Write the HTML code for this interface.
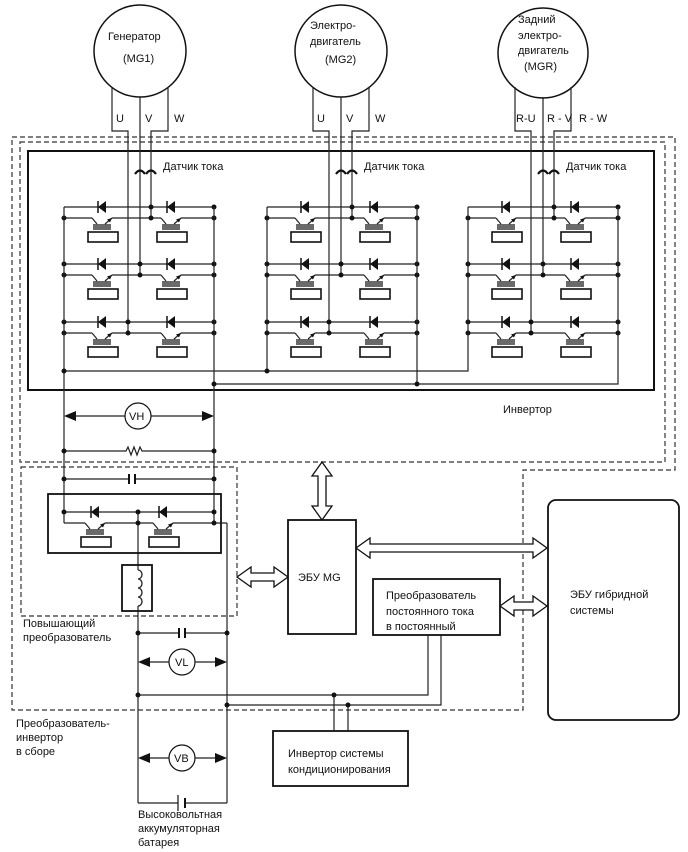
<!DOCTYPE html>
<html><head><meta charset="utf-8"><style>
html,body{margin:0;padding:0;background:#fff}
svg{display:block}
text{font-family:"Liberation Sans",sans-serif;font-size:11px;fill:#111}
</style></head><body>
<svg width="688" height="852" viewBox="0 0 688 852" xmlns="http://www.w3.org/2000/svg">
<defs>
<g id="sw">
 <polygon points="-4,0 4,-6 4,6" fill="#111"/>
 <line x1="-4" y1="-6" x2="-4" y2="6" stroke="#111" stroke-width="1.5"/>
 <line x1="-10" y1="11" x2="-5" y2="17" stroke="#222" stroke-width="1.2"/>
 <line x1="3" y1="17" x2="10" y2="11" stroke="#222" stroke-width="1.2"/>
 <polygon points="10,11 5,12.5 8,15.5" fill="#111"/>
 <line x1="-9" y1="18" x2="9" y2="18" stroke="#111" stroke-width="1.2"/>
 <line x1="-9" y1="20" x2="9" y2="20" stroke="#111" stroke-width="1.2"/>
 <line x1="-9" y1="22" x2="9" y2="22" stroke="#111" stroke-width="1.2"/>
 <rect x="-14" y="25" width="30" height="10" fill="none" stroke="#111" stroke-width="1.6"/>
</g>
<g id="row">
 <line x1="0" y1="0" x2="150" y2="0" stroke="#222" stroke-width="1.2"/>
 <line x1="0" y1="11" x2="28" y2="11" stroke="#222" stroke-width="1.2"/>
 <line x1="48" y1="11" x2="97" y2="11" stroke="#222" stroke-width="1.2"/>
 <line x1="117" y1="11" x2="150" y2="11" stroke="#222" stroke-width="1.2"/>
 <use href="#sw" x="38" y="0"/>
 <use href="#sw" x="107" y="0"/>
 <circle cx="0" cy="11" r="2.5" fill="#111"/>
 <circle cx="150" cy="11" r="2.5" fill="#111"/>
</g>
<g id="bridge">
 <use href="#row" x="0" y="0"/>
 <use href="#row" x="0" y="57"/>
 <use href="#row" x="0" y="115"/>
 <circle cx="0" cy="57" r="2.5" fill="#111"/><circle cx="150" cy="57" r="2.5" fill="#111"/>
 <circle cx="0" cy="115" r="2.5" fill="#111"/><circle cx="150" cy="115" r="2.5" fill="#111"/>
 <circle cx="150" cy="0" r="2.5" fill="#111"/>
</g>
<g id="motorwires" fill="none" stroke="#222" stroke-width="1.2">
 <polyline points="-28,87 -28,131 -12,131 -12,333"/>
 <line x1="0" y1="97" x2="0" y2="275"/>
 <polyline points="28,87 28,131 11,131 11,218"/>
 <path d="M-5,174 q5,-7 10,0" stroke="#111" stroke-width="2.2"/>
 <path d="M6,174 q5,-7 10,0" stroke="#111" stroke-width="2.2"/>
</g>
<g id="mdots" fill="#111">
 <circle cx="-12" cy="322" r="2.5"/><circle cx="-12" cy="333" r="2.5"/>
 <circle cx="0" cy="264" r="2.5"/><circle cx="0" cy="275" r="2.5"/>
 <circle cx="11" cy="207" r="2.5"/><circle cx="11" cy="218" r="2.5"/>
</g>
</defs>

<!-- dashed boxes -->
<g fill="none" stroke="#333" stroke-width="1.2" stroke-dasharray="5,3">
 <polyline points="12,137 675,137 675,470 523,470 523,710 12,710 12,137"/>
 <rect x="20" y="142" width="645" height="320"/>
 <rect x="21" y="467" width="216" height="149"/>
</g>

<!-- inverter box -->
<rect x="28" y="151" width="626" height="239" fill="none" stroke="#111" stroke-width="2"/>

<!-- motors -->
<g fill="none" stroke="#111" stroke-width="1.5">
 <circle cx="140" cy="51" r="46"/>
 <circle cx="341" cy="51" r="46"/>
 <circle cx="543" cy="53" r="45"/>
</g>
<text x="108" y="40">Генератор</text>
<text x="123" y="62">(MG1)</text>
<text x="310" y="29">Электро-</text>
<text x="310" y="45">двигатель</text>
<text x="325" y="63">(MG2)</text>
<text x="518" y="23">Задний</text>
<text x="518" y="39">электро-</text>
<text x="518" y="54">двигатель</text>
<text x="524" y="70">(MGR)</text>

<use href="#motorwires" x="140" y="0"/>
<use href="#motorwires" x="341" y="0"/>
<use href="#motorwires" x="543" y="0"/>
<text x="116" y="122">U</text><text x="145" y="122">V</text><text x="174" y="122">W</text>
<text x="317" y="122">U</text><text x="346" y="122">V</text><text x="375" y="122">W</text>
<text x="516" y="122">R-U</text><text x="547" y="122">R - V</text><text x="579" y="122">R - W</text>
<text x="163" y="170">Датчик тока</text>
<text x="364" y="170">Датчик тока</text>
<text x="566" y="170">Датчик тока</text>

<!-- bridges -->
<use href="#bridge" x="64" y="207"/>
<use href="#bridge" x="267" y="207"/>
<use href="#bridge" x="468" y="207"/>
<use href="#mdots" x="140" y="0"/>
<use href="#mdots" x="341" y="0"/>
<use href="#mdots" x="543" y="0"/>

<g fill="none" stroke="#222" stroke-width="1.2">
 <line x1="267" y1="207" x2="267" y2="371"/>
 <line x1="417" y1="207" x2="417" y2="384"/>
 <polyline points="618,207 618,384 214,384"/>
 <polyline points="468,207 468,371 64,371"/>
 <line x1="64" y1="207" x2="64" y2="523"/>
 <line x1="214" y1="207" x2="214" y2="523"/>
 <!-- VH -->
 <line x1="74" y1="416" x2="204" y2="416"/>
 <!-- resistor -->
 <polyline points="64,451 126,451 128,447 131,455 134,447 137,455 140,447 142,451 214,451"/>
 <!-- cap -->
 <line x1="64" y1="479" x2="129" y2="479"/><line x1="135" y1="479" x2="214" y2="479"/>
 <!-- boost -->
 <line x1="64" y1="512" x2="214" y2="512"/>
 <line x1="64" y1="523" x2="85" y2="523"/>
 <line x1="105" y1="523" x2="153" y2="523"/>
 <line x1="173" y1="523" x2="227" y2="523"/>
 <line x1="227" y1="523" x2="227" y2="803"/>
 <line x1="138" y1="512" x2="138" y2="565"/>
 <line x1="138" y1="611" x2="138" y2="803"/>
 <line x1="138" y1="565" x2="138" y2="570"/><line x1="138" y1="606" x2="138" y2="611"/>
 <path d="M138,570 a4,4.5 0 1 1 0,9 a4,4.5 0 1 1 0,9 a4,4.5 0 1 1 0,9 a4,4.5 0 1 1 0,9" stroke-width="1.3"/>
 <!-- lower -->
 <line x1="138" y1="633" x2="179" y2="633"/><line x1="185" y1="633" x2="227" y2="633"/>
 <line x1="148" y1="662" x2="217" y2="662"/>
 <polyline points="138,695 428,695 428,635"/>
 <polyline points="227,705 441,705 441,635"/>
 <line x1="334" y1="695" x2="334" y2="731"/>
 <line x1="348" y1="705" x2="348" y2="731"/>
 <line x1="148" y1="758" x2="217" y2="758"/>
 <line x1="138" y1="803" x2="178" y2="803"/><line x1="185" y1="803" x2="227" y2="803"/>
</g>
<!-- cap plates -->
<g stroke="#111" stroke-width="2">
 <line x1="129" y1="474" x2="129" y2="484"/><line x1="135" y1="474" x2="135" y2="484"/>
 <line x1="179" y1="628" x2="179" y2="638"/><line x1="185" y1="628" x2="185" y2="638"/>
 <line x1="185" y1="798" x2="185" y2="808"/>
</g>
<line x1="178" y1="795" x2="178" y2="811" stroke="#111" stroke-width="1.2"/>
<!-- boost switches -->
<use href="#sw" x="95" y="512"/>
<use href="#sw" x="163" y="512"/>
<rect x="48" y="494" width="173" height="59" fill="none" stroke="#111" stroke-width="1.8"/>
<rect x="122" y="565" width="30" height="46" fill="none" stroke="#111" stroke-width="1.8"/>

<!-- meters -->
<g fill="#111">
 <polygon points="64,416 76,411 76,421"/><polygon points="214,416 202,411 202,421"/>
 <polygon points="138,662 150,657 150,667"/><polygon points="227,662 215,657 215,667"/>
 <polygon points="138,758 150,753 150,763"/><polygon points="227,758 215,753 215,763"/>
</g>
<g fill="#fff" stroke="#111" stroke-width="1.2">
 <circle cx="138" cy="416" r="13"/>
 <circle cx="182" cy="662" r="13"/>
 <circle cx="182" cy="758" r="13"/>
</g>
<text x="129" y="420">VH</text>
<text x="175" y="666">VL</text>
<text x="174" y="762">VB</text>

<!-- dots -->
<g fill="#111">
 <circle cx="64" cy="371" r="2.5"/><circle cx="267" cy="371" r="2.5"/>
 <circle cx="214" cy="384" r="2.5"/><circle cx="417" cy="384" r="2.5"/>
 <circle cx="64" cy="451" r="2.5"/><circle cx="214" cy="451" r="2.5"/>
 <circle cx="64" cy="479" r="2.5"/><circle cx="214" cy="479" r="2.5"/>
 <circle cx="64" cy="512" r="2.5"/><circle cx="138" cy="512" r="2.5"/><circle cx="214" cy="512" r="2.5"/>
 <circle cx="138" cy="523" r="2.5"/><circle cx="214" cy="523" r="2.5"/>
 <circle cx="138" cy="633" r="2.5"/><circle cx="227" cy="633" r="2.5"/>
 <circle cx="138" cy="695" r="2.5"/><circle cx="227" cy="705" r="2.5"/>
 <circle cx="334" cy="695" r="2.5"/><circle cx="348" cy="705" r="2.5"/>
</g>

<!-- blocks -->
<g fill="#fff" stroke="#111" stroke-width="1.8">
 <rect x="288" y="520" width="68" height="114"/>
 <rect x="373" y="579" width="127" height="56"/>
 <rect x="273" y="731" width="135" height="55"/>
 <rect x="548" y="500" width="131" height="220" rx="8"/>
</g>
<text x="298" y="581">ЭБУ MG</text>
<text x="386" y="599">Преобразователь</text>
<text x="386" y="615">постоянного тока</text>
<text x="386" y="630">в постоянный</text>
<text x="288" y="757">Инвертор системы</text>
<text x="288" y="773">кондиционирования</text>
<text x="570" y="598">ЭБУ гибридной</text>
<text x="570" y="614">системы</text>

<!-- double arrows -->
<g fill="#fff" stroke="#111" stroke-width="1.3">
 <polygon points="322,462 332,476 326,476 326,506 332,506 322,520 312,506 318,506 318,476 312,476"/>
 <polygon points="237,577 251,567 251,573 274,573 274,567 288,577 274,587 274,581 251,581 251,587"/>
 <polygon points="356,548 370,538 370,544 533,544 533,538 547,548 533,558 533,552 370,552 370,558"/>
 <polygon points="500,606 514,596 514,602 533,602 533,596 547,606 533,616 533,610 514,610 514,616"/>
</g>

<text x="503" y="413">Инвертор</text>
<text x="23" y="627">Повышающий</text>
<text x="23" y="641">преобразователь</text>
<text x="16" y="727">Преобразователь-</text>
<text x="16" y="741">инвертор</text>
<text x="16" y="755">в сборе</text>
<text x="138" y="818">Высоковольтная</text>
<text x="138" y="832">аккумуляторная</text>
<text x="138" y="846">батарея</text>
</svg>
</body></html>
